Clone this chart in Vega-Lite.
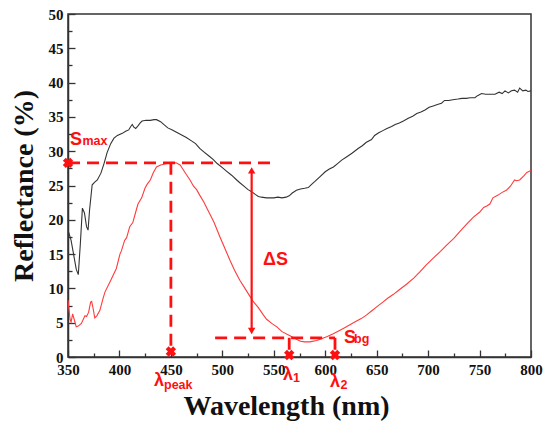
{
  "$schema": "https://vega.github.io/schema/vega-lite/v6.json",
  "width": 463,
  "height": 343,
  "autosize": {"type": "none"},
  "padding": {"left": 68, "top": 14, "right": 19, "bottom": 68},
  "background": "white",
  "config": {
    "view": {"stroke": "#333", "strokeWidth": 1.5},
    "axis": {
      "domainColor": "#333", "domainWidth": 1.5,
      "tickColor": "#333", "tickWidth": 1.3,
      "grid": false,
      "labelFont": "Liberation Serif", "labelFontWeight": "bold", "labelFontSize": 15, "labelColor": "#111",
      "titleFont": "Liberation Serif", "titleFontWeight": "bold", "titleFontSize": 28, "titleColor": "#111",
      "labelOverlap": false, "labelFlush": false
    }
  },
  "datasets": {
    "spectra": [
      {"nm": 350, "r": 18.5, "s": "black"}, {"nm": 353, "r": 17.0, "s": "black"}, {"nm": 356, "r": 14.5, "s": "black"},
      {"nm": 358, "r": 12.8, "s": "black"}, {"nm": 360, "r": 12.0, "s": "black"}, {"nm": 362, "r": 16.5, "s": "black"},
      {"nm": 364, "r": 21.7, "s": "black"}, {"nm": 366, "r": 21.0, "s": "black"}, {"nm": 368, "r": 19.0, "s": "black"},
      {"nm": 369.5, "r": 18.5, "s": "black"}, {"nm": 371, "r": 21.5, "s": "black"}, {"nm": 373.5, "r": 25.1, "s": "black"},
      {"nm": 376, "r": 25.5, "s": "black"}, {"nm": 378.5, "r": 25.8, "s": "black"}, {"nm": 382, "r": 26.8, "s": "black"},
      {"nm": 385, "r": 28.2, "s": "black"}, {"nm": 388, "r": 29.8, "s": "black"}, {"nm": 391.5, "r": 31.1, "s": "black"},
      {"nm": 394.7, "r": 31.9, "s": "black"}, {"nm": 398, "r": 32.3, "s": "black"}, {"nm": 402.8, "r": 32.6, "s": "black"},
      {"nm": 406, "r": 32.9, "s": "black"}, {"nm": 409, "r": 33.1, "s": "black"}, {"nm": 411, "r": 33.6, "s": "black"},
      {"nm": 412.5, "r": 33.9, "s": "black"}, {"nm": 414, "r": 33.5, "s": "black"}, {"nm": 415.8, "r": 33.3, "s": "black"},
      {"nm": 418, "r": 33.7, "s": "black"}, {"nm": 420, "r": 34.1, "s": "black"}, {"nm": 422, "r": 34.4, "s": "black"},
      {"nm": 426, "r": 34.5, "s": "black"}, {"nm": 430, "r": 34.5, "s": "black"}, {"nm": 433.6, "r": 34.6, "s": "black"},
      {"nm": 436, "r": 34.6, "s": "black"}, {"nm": 440, "r": 34.3, "s": "black"}, {"nm": 443, "r": 33.9, "s": "black"},
      {"nm": 447, "r": 33.4, "s": "black"}, {"nm": 451.4, "r": 33.1, "s": "black"}, {"nm": 455, "r": 32.8, "s": "black"},
      {"nm": 460, "r": 32.4, "s": "black"}, {"nm": 465, "r": 32.0, "s": "black"}, {"nm": 470, "r": 31.5, "s": "black"},
      {"nm": 474, "r": 31.1, "s": "black"}, {"nm": 478, "r": 30.4, "s": "black"}, {"nm": 482, "r": 29.9, "s": "black"},
      {"nm": 487, "r": 29.3, "s": "black"}, {"nm": 491, "r": 28.8, "s": "black"}, {"nm": 495, "r": 28.2, "s": "black"},
      {"nm": 500, "r": 27.6, "s": "black"}, {"nm": 504, "r": 27.1, "s": "black"}, {"nm": 509, "r": 26.5, "s": "black"},
      {"nm": 514, "r": 25.8, "s": "black"}, {"nm": 517, "r": 25.4, "s": "black"}, {"nm": 521, "r": 24.9, "s": "black"},
      {"nm": 525, "r": 24.4, "s": "black"}, {"nm": 528.5, "r": 24.1, "s": "black"}, {"nm": 532, "r": 23.7, "s": "black"},
      {"nm": 535, "r": 23.4, "s": "black"}, {"nm": 538, "r": 23.3, "s": "black"}, {"nm": 543, "r": 23.2, "s": "black"},
      {"nm": 546, "r": 23.2, "s": "black"}, {"nm": 550, "r": 23.2, "s": "black"}, {"nm": 554, "r": 23.3, "s": "black"},
      {"nm": 558, "r": 23.2, "s": "black"}, {"nm": 562, "r": 23.3, "s": "black"}, {"nm": 565, "r": 23.5, "s": "black"},
      {"nm": 568, "r": 23.9, "s": "black"}, {"nm": 572, "r": 24.3, "s": "black"}, {"nm": 576, "r": 24.5, "s": "black"},
      {"nm": 580, "r": 24.6, "s": "black"}, {"nm": 583.5, "r": 24.7, "s": "black"}, {"nm": 587, "r": 25.2, "s": "black"},
      {"nm": 590, "r": 25.6, "s": "black"}, {"nm": 595, "r": 26.3, "s": "black"}, {"nm": 600, "r": 27.0, "s": "black"},
      {"nm": 604, "r": 27.4, "s": "black"}, {"nm": 608, "r": 27.7, "s": "black"}, {"nm": 612, "r": 28.2, "s": "black"},
      {"nm": 616, "r": 28.7, "s": "black"}, {"nm": 621, "r": 29.2, "s": "black"}, {"nm": 626, "r": 29.7, "s": "black"},
      {"nm": 632, "r": 30.4, "s": "black"}, {"nm": 636, "r": 30.8, "s": "black"}, {"nm": 640, "r": 31.3, "s": "black"},
      {"nm": 645, "r": 31.7, "s": "black"}, {"nm": 648, "r": 32.3, "s": "black"}, {"nm": 652, "r": 32.7, "s": "black"},
      {"nm": 656, "r": 33.0, "s": "black"}, {"nm": 660, "r": 33.3, "s": "black"}, {"nm": 664.5, "r": 33.6, "s": "black"},
      {"nm": 668, "r": 33.9, "s": "black"}, {"nm": 672, "r": 34.1, "s": "black"}, {"nm": 676, "r": 34.4, "s": "black"},
      {"nm": 680.7, "r": 34.8, "s": "black"}, {"nm": 685, "r": 35.1, "s": "black"}, {"nm": 689, "r": 35.5, "s": "black"},
      {"nm": 693, "r": 35.7, "s": "black"}, {"nm": 697, "r": 36.0, "s": "black"}, {"nm": 701, "r": 36.4, "s": "black"},
      {"nm": 705, "r": 36.6, "s": "black"}, {"nm": 709, "r": 36.8, "s": "black"}, {"nm": 713, "r": 37.0, "s": "black"},
      {"nm": 716, "r": 37.4, "s": "black"}, {"nm": 720, "r": 37.4, "s": "black"}, {"nm": 724, "r": 37.5, "s": "black"},
      {"nm": 729, "r": 37.6, "s": "black"}, {"nm": 733, "r": 37.7, "s": "black"}, {"nm": 737, "r": 37.7, "s": "black"},
      {"nm": 741, "r": 37.8, "s": "black"}, {"nm": 745.5, "r": 37.8, "s": "black"}, {"nm": 748, "r": 38.1, "s": "black"},
      {"nm": 752, "r": 38.4, "s": "black"}, {"nm": 756, "r": 38.3, "s": "black"}, {"nm": 760, "r": 38.3, "s": "black"},
      {"nm": 765, "r": 38.3, "s": "black"}, {"nm": 769, "r": 38.6, "s": "black"}, {"nm": 772, "r": 38.4, "s": "black"},
      {"nm": 774.7, "r": 38.8, "s": "black"}, {"nm": 778, "r": 38.5, "s": "black"}, {"nm": 781, "r": 38.8, "s": "black"},
      {"nm": 784, "r": 38.9, "s": "black"}, {"nm": 787, "r": 38.6, "s": "black"}, {"nm": 789, "r": 39.2, "s": "black"},
      {"nm": 792, "r": 38.8, "s": "black"}, {"nm": 795, "r": 38.9, "s": "black"}, {"nm": 797, "r": 38.7, "s": "black"},
      {"nm": 800, "r": 38.8, "s": "black"},
      {"nm": 350, "r": 8.3, "s": "red"}, {"nm": 352, "r": 5.5, "s": "red"}, {"nm": 353, "r": 5.1, "s": "red"},
      {"nm": 354.5, "r": 6.3, "s": "red"}, {"nm": 356, "r": 5.5, "s": "red"}, {"nm": 358, "r": 4.4, "s": "red"},
      {"nm": 360, "r": 4.5, "s": "red"}, {"nm": 363, "r": 4.9, "s": "red"}, {"nm": 366.5, "r": 6.0, "s": "red"},
      {"nm": 368, "r": 5.9, "s": "red"}, {"nm": 370, "r": 6.5, "s": "red"}, {"nm": 372, "r": 8.0, "s": "red"},
      {"nm": 373, "r": 8.1, "s": "red"}, {"nm": 374.5, "r": 7.0, "s": "red"}, {"nm": 376, "r": 5.7, "s": "red"},
      {"nm": 378, "r": 6.0, "s": "red"}, {"nm": 381, "r": 6.8, "s": "red"}, {"nm": 384, "r": 8.5, "s": "red"},
      {"nm": 386, "r": 9.5, "s": "red"}, {"nm": 391, "r": 11.0, "s": "red"}, {"nm": 397, "r": 12.9, "s": "red"},
      {"nm": 400.5, "r": 15.0, "s": "red"}, {"nm": 402, "r": 15.5, "s": "red"}, {"nm": 405, "r": 17.0, "s": "red"},
      {"nm": 407, "r": 17.4, "s": "red"}, {"nm": 410, "r": 19.0, "s": "red"}, {"nm": 413, "r": 19.6, "s": "red"},
      {"nm": 415, "r": 20.7, "s": "red"}, {"nm": 418, "r": 22.3, "s": "red"}, {"nm": 421.6, "r": 23.2, "s": "red"},
      {"nm": 424.8, "r": 24.6, "s": "red"}, {"nm": 427, "r": 25.2, "s": "red"}, {"nm": 430, "r": 25.8, "s": "red"},
      {"nm": 433, "r": 26.9, "s": "red"}, {"nm": 436, "r": 27.7, "s": "red"}, {"nm": 440, "r": 28.0, "s": "red"},
      {"nm": 443, "r": 28.1, "s": "red"}, {"nm": 446, "r": 28.2, "s": "red"}, {"nm": 449, "r": 28.3, "s": "red"},
      {"nm": 452, "r": 28.3, "s": "red"}, {"nm": 455, "r": 28.3, "s": "red"}, {"nm": 459, "r": 28.0, "s": "red"},
      {"nm": 462, "r": 27.3, "s": "red"}, {"nm": 465, "r": 26.6, "s": "red"}, {"nm": 468.6, "r": 25.8, "s": "red"},
      {"nm": 472, "r": 24.9, "s": "red"}, {"nm": 475, "r": 24.4, "s": "red"}, {"nm": 478, "r": 23.6, "s": "red"},
      {"nm": 482, "r": 22.6, "s": "red"}, {"nm": 485, "r": 21.7, "s": "red"}, {"nm": 488, "r": 20.8, "s": "red"},
      {"nm": 492, "r": 19.6, "s": "red"}, {"nm": 497.7, "r": 17.5, "s": "red"}, {"nm": 502, "r": 16.0, "s": "red"},
      {"nm": 507.4, "r": 14.1, "s": "red"}, {"nm": 512, "r": 12.6, "s": "red"}, {"nm": 517, "r": 11.2, "s": "red"},
      {"nm": 522, "r": 10.0, "s": "red"}, {"nm": 527, "r": 8.8, "s": "red"}, {"nm": 530, "r": 8.1, "s": "red"},
      {"nm": 535, "r": 7.2, "s": "red"}, {"nm": 540, "r": 6.1, "s": "red"}, {"nm": 543, "r": 5.5, "s": "red"},
      {"nm": 548, "r": 4.9, "s": "red"}, {"nm": 553, "r": 4.4, "s": "red"}, {"nm": 558, "r": 3.7, "s": "red"},
      {"nm": 565.7, "r": 3.1, "s": "red"}, {"nm": 572, "r": 2.6, "s": "red"}, {"nm": 576, "r": 2.3, "s": "red"},
      {"nm": 580, "r": 2.2, "s": "red"}, {"nm": 585, "r": 2.2, "s": "red"}, {"nm": 591.7, "r": 2.4, "s": "red"},
      {"nm": 597, "r": 2.7, "s": "red"}, {"nm": 602, "r": 3.0, "s": "red"}, {"nm": 607.8, "r": 3.4, "s": "red"},
      {"nm": 613, "r": 3.8, "s": "red"}, {"nm": 618, "r": 4.2, "s": "red"}, {"nm": 624, "r": 4.7, "s": "red"},
      {"nm": 630, "r": 5.2, "s": "red"}, {"nm": 635, "r": 5.6, "s": "red"}, {"nm": 640, "r": 6.1, "s": "red"},
      {"nm": 645, "r": 6.7, "s": "red"}, {"nm": 650, "r": 7.3, "s": "red"}, {"nm": 656, "r": 8.0, "s": "red"},
      {"nm": 661, "r": 8.6, "s": "red"}, {"nm": 666, "r": 9.1, "s": "red"}, {"nm": 672, "r": 9.8, "s": "red"},
      {"nm": 679, "r": 10.6, "s": "red"}, {"nm": 686, "r": 11.5, "s": "red"}, {"nm": 692, "r": 12.4, "s": "red"},
      {"nm": 698, "r": 13.4, "s": "red"}, {"nm": 705, "r": 14.4, "s": "red"}, {"nm": 712, "r": 15.4, "s": "red"},
      {"nm": 718, "r": 16.3, "s": "red"}, {"nm": 725, "r": 17.3, "s": "red"}, {"nm": 731, "r": 18.3, "s": "red"},
      {"nm": 737, "r": 19.3, "s": "red"}, {"nm": 744, "r": 20.4, "s": "red"}, {"nm": 750, "r": 21.1, "s": "red"},
      {"nm": 754, "r": 21.8, "s": "red"}, {"nm": 757, "r": 22.0, "s": "red"}, {"nm": 760, "r": 22.3, "s": "red"},
      {"nm": 763, "r": 23.2, "s": "red"}, {"nm": 768, "r": 23.6, "s": "red"}, {"nm": 772, "r": 24.0, "s": "red"},
      {"nm": 776, "r": 24.3, "s": "red"}, {"nm": 780, "r": 24.9, "s": "red"}, {"nm": 784, "r": 25.8, "s": "red"},
      {"nm": 786, "r": 25.7, "s": "red"}, {"nm": 789, "r": 25.8, "s": "red"}, {"nm": 793, "r": 26.4, "s": "red"},
      {"nm": 796, "r": 26.9, "s": "red"}, {"nm": 800, "r": 27.2, "s": "red"}
    ],
    "guides": [
      {"x": 350, "y": 28.3, "x2": 552, "y2": 28.3},
      {"x": 450, "y": 28.3, "x2": 450, "y2": 0.8},
      {"x": 493, "y": 2.8, "x2": 609.5, "y2": 2.8},
      {"x": 565, "y": 2.8, "x2": 565, "y2": 0.3},
      {"x": 609.5, "y": 2.8, "x2": 609.5, "y2": 0.3}
    ],
    "arrow": [
      {"x": 528.5, "y": 27.2, "end": "top"},
      {"x": 528.5, "y": 3.8, "end": "bottom"}
    ],
    "marks": [
      {"x": 350, "y": 28.3}, {"x": 450, "y": 0.8}, {"x": 565, "y": 0.3}, {"x": 609.5, "y": 0.3}
    ],
    "labels": [
      {"t": "S", "x": 351.9, "y": 30.9, "k": "main"},
      {"t": "max", "x": 364.1, "y": 30.9, "k": "sub"},
      {"t": "λ", "x": 433.6, "y": -4.3, "k": "main"},
      {"t": "peak", "x": 443.3, "y": -4.6, "k": "sub"},
      {"t": "λ", "x": 559, "y": -3.4, "k": "main"},
      {"t": "1", "x": 568.7, "y": -3.7, "k": "sub"},
      {"t": "λ", "x": 604.6, "y": -4.4, "k": "main"},
      {"t": "2", "x": 614.8, "y": -4.7, "k": "sub"},
      {"t": "S", "x": 618.2, "y": 2.0, "k": "main"},
      {"t": "bg", "x": 628, "y": 2.0, "k": "sub"},
      {"t": "ΔS", "x": 539.5, "y": 13.4, "k": "main"}
    ]
  },
  "encoding": {
    "x": {
      "type": "quantitative",
      "scale": {"domain": [350, 800], "nice": false, "zero": false},
      "axis": {
        "title": "Wavelength (nm)",
        "titleX": 218,
        "titlePadding": 12,
        "values": [350, 375, 400, 425, 450, 475, 500, 525, 550, 575, 600, 625, 650, 675, 700, 725, 750, 775, 800],
        "labelExpr": "datum.value % 50 === 0 ? datum.label : ''",
        "tickSize": {"condition": {"test": "datum.value % 50 === 0", "value": -7}, "value": -4},
        "labelPadding": 12
      }
    },
    "y": {
      "type": "quantitative",
      "scale": {"domain": [0, 50], "nice": false},
      "axis": {
        "title": "Reflectance (%)",
        "titlePadding": 10,
        "values": [0, 2.5, 5, 7.5, 10, 12.5, 15, 17.5, 20, 22.5, 25, 27.5, 30, 32.5, 35, 37.5, 40, 42.5, 45, 47.5, 50],
        "labelExpr": "datum.value % 5 === 0 ? datum.label : ''",
        "tickSize": {"condition": {"test": "datum.value % 5 === 0", "value": -7}, "value": -4},
        "labelPadding": 12
      }
    }
  },
  "layer": [
    {
      "data": {"name": "spectra"},
      "mark": {"type": "line", "strokeWidth": 1.1, "clip": true},
      "encoding": {
        "x": {"field": "nm", "type": "quantitative"},
        "y": {"field": "r", "type": "quantitative"},
        "color": {"field": "s", "type": "nominal", "scale": {"domain": ["black", "red"], "range": ["#333333", "#ff3b3b"]}, "legend": null}
      }
    },
    {
      "data": {"name": "guides"},
      "mark": {"type": "rule", "color": "#ff1010", "strokeWidth": 2.8, "strokeDash": [12, 7]},
      "encoding": {
        "x": {"field": "x", "type": "quantitative"},
        "y": {"field": "y", "type": "quantitative"},
        "x2": {"field": "x2"},
        "y2": {"field": "y2"}
      }
    },
    {
      "data": {"name": "arrow"},
      "mark": {"type": "rule", "color": "#ff1010", "strokeWidth": 2.2},
      "transform": [{"aggregate": [{"op": "min", "field": "y", "as": "y"}, {"op": "max", "field": "y", "as": "y2"}], "groupby": ["x"]}],
      "encoding": {
        "x": {"field": "x", "type": "quantitative"},
        "y": {"field": "y", "type": "quantitative"},
        "y2": {"field": "y2"}
      }
    },
    {
      "data": {"name": "arrow"},
      "mark": {"type": "point", "filled": true, "color": "#ff1010", "opacity": 1, "size": 55},
      "encoding": {
        "x": {"field": "x", "type": "quantitative"},
        "y": {"field": "y", "type": "quantitative"},
        "shape": {"field": "end", "type": "nominal", "scale": {"domain": ["top", "bottom"], "range": ["triangle-up", "triangle-down"]}, "legend": null}
      }
    },
    {
      "data": {"name": "marks"},
      "mark": {"type": "point", "shape": "cross", "angle": 45, "filled": true, "color": "#ff1010", "opacity": 1, "size": 110},
      "encoding": {
        "x": {"field": "x", "type": "quantitative"},
        "y": {"field": "y", "type": "quantitative"}
      }
    },
    {
      "data": {"name": "labels"},
      "transform": [{"filter": "datum.k === 'main'"}],
      "mark": {"type": "text", "align": "left", "baseline": "alphabetic", "font": "Liberation Sans", "fontWeight": "bold", "fontSize": 18, "color": "#ff1010"},
      "encoding": {
        "x": {"field": "x", "type": "quantitative"},
        "y": {"field": "y", "type": "quantitative"},
        "text": {"field": "t"}
      }
    },
    {
      "data": {"name": "labels"},
      "transform": [{"filter": "datum.k === 'sub'"}],
      "mark": {"type": "text", "align": "left", "baseline": "alphabetic", "font": "Liberation Sans", "fontWeight": "bold", "fontSize": 12.5, "color": "#ff1010"},
      "encoding": {
        "x": {"field": "x", "type": "quantitative"},
        "y": {"field": "y", "type": "quantitative"},
        "text": {"field": "t"}
      }
    }
  ]
}
